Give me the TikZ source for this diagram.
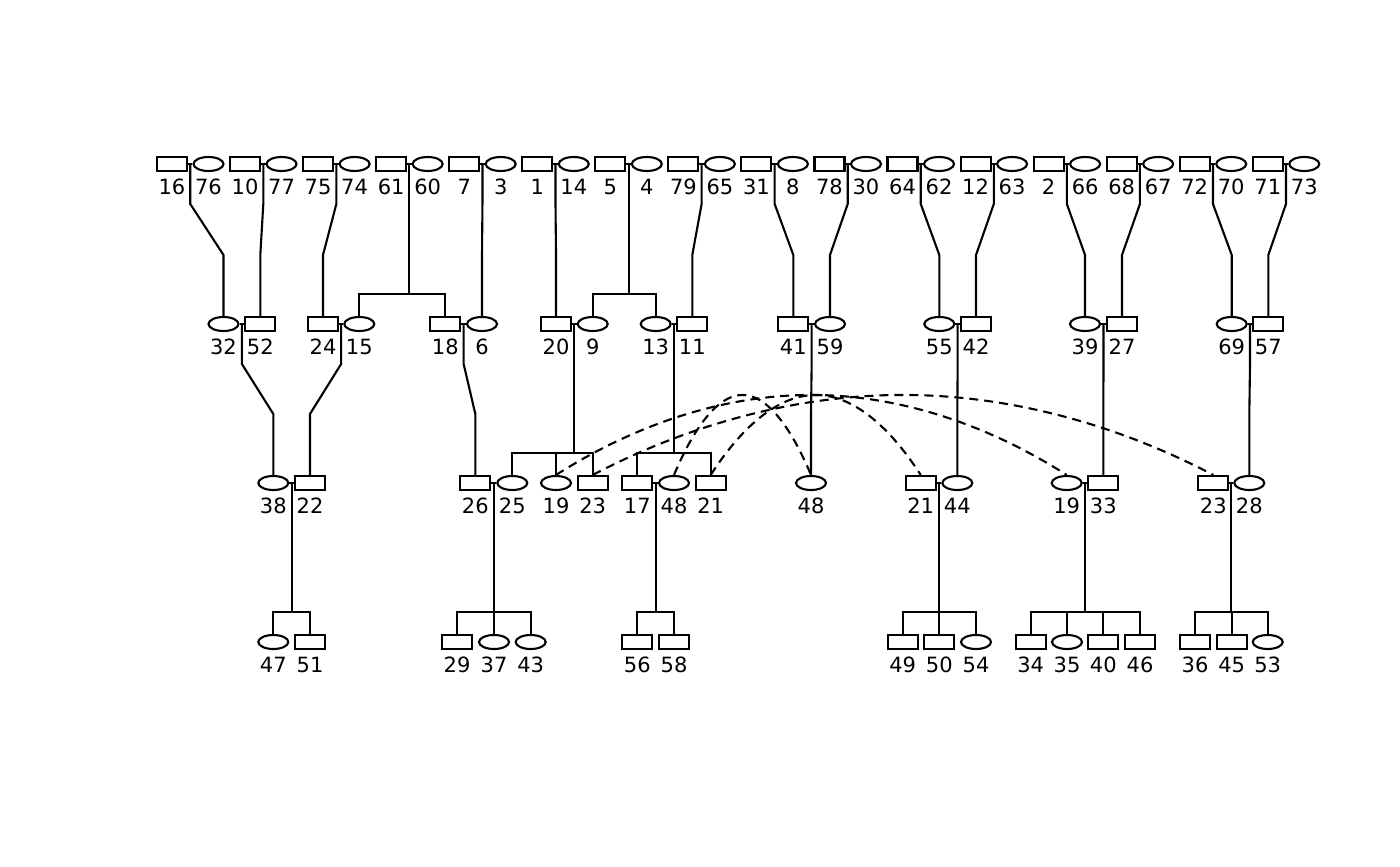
\documentclass[tikz,border=0pt]{standalone}
\usepackage{fontspec}
\setmainfont{DejaVu Sans}
\usetikzlibrary{shapes.geometric,calc}

\begin{document}
\begin{tikzpicture}
  [
  x=0.5pt, y=0.5pt,
  font=\fontsize{10.5}{12}\selectfont,
  line width=1.05pt,
  label distance=3pt,
  every label/.style={inner sep=0pt},
  malenode/.style={rectangle, inner sep=0pt, minimum width=15pt, minimum height=7pt, draw=black},
  femalenode/.style={ellipse, inner sep=0pt, minimum width=15pt, minimum height=7pt, draw=black},
  dupline/.style={dash pattern=on 4.5pt off 3pt},
  ]

\useasboundingbox (0,0) rectangle (1400,-866);

% founders
\foreach \m/\f [count=\i from 0] in {16/76,10/77,75/74,61/60,7/3,1/14,5/4,79/65,31/8,78/30,64/62,12/63,2/66,68/67,72/70,71/73}
{
  \node[malenode, label=below:\m] (m\m) at ({172+73.05*\i},-164) {};
  \node[femalenode, label=below:\f] (f\f) at ({208.5+73.05*\i},-164) {};
  \draw (m\m) -- (f\f);
  \coordinate (c\m) at ($(m\m.east)!0.5!(f\f.west)$);
}

% second generation
\foreach \n/\x in {52/260.3, 24/323, 18/445.3, 20/556, 11/692.3, 41/793.3, 42/976, 27/1122, 57/1268.3}
  \node[malenode, label=below:\n] (m\n) at (\x,-324) {};
\foreach \n/\x in {32/223.5, 15/359.3, 6/482, 9/592.7, 13/655.7, 59/830, 55/939.3, 39/1085, 69/1231.7}
  \node[femalenode, label=below:\n] (f\n) at (\x,-324) {};

% third generation (19, 23, 48, 21 drawn twice)
\foreach \n/\t/\x in {m22/22/310, m26/26/475.3, m23a/23/592.7, m17/17/637.3, m21a/21/710.7, m21b/21/920.7, m33/33/1103.3, m23b/23/1213.3}
  \node[malenode, label=below:\t] (\n) at (\x,-483) {};
\foreach \n/\t/\x in {f38/38/273.3, f25/25/512.3, f19a/19/556, f48a/48/674, f48b/48/811, f44/44/957.3, f19b/19/1066.7, f28/28/1249.3}
  \node[femalenode, label=below:\t] (\n) at (\x,-483) {};

% fourth generation
\foreach \n/\x in {51/310, 29/457, 56/637.3, 58/674, 49/902.7, 50/939.3, 34/1030.7, 40/1103.3, 46/1140, 36/1195, 45/1231.7}
  \node[malenode, label=below:\n] (m\n) at (\x,-642) {};
\foreach \n/\x in {47/273.3, 37/494, 43/530.7, 54/976, 35/1067, 53/1267.7}
  \node[femalenode, label=below:\n] (f\n) at (\x,-642) {};

% marriages
\foreach \a/\b/\c in {f32/m52/c32, m24/f15/c24, m18/f6/c18, m20/f9/c20, f13/m11/c13, m41/f59/c41, f55/m42/c55, f39/m27/c39, f69/m57/c69, f38/m22/c38, m26/f25/c26, m17/f48a/c17, m21b/f44/c21, f19b/m33/c19, m23b/f28/c23}
{
  \draw (\a) -- (\b);
  \coordinate (\c) at ($(\a.east)!0.5!(\b.west)$);
}

% only children
\foreach \c/\k in {c16/f32, c10/m52, c75/m24, c7/f6, c1/m20, c79/m11, c31/m41, c78/f59, c64/f55, c12/m42, c2/f39, c68/m27, c72/f69, c71/m57, c32/f38, c24/m22, c18/m26, c41/f48b, c55/f44, c39/m33, c69/f28}
  \draw (\c) -- ++(0,-40) -- ($(\k.north)+(0,61)$) -- (\k.north);

% sibships
\foreach \c/\a/\b in {c61/f15/m18, c5/f9/f13, c20/f25/m23a, c13/m17/m21a, c38/f47/m51, c26/m29/f43, c17/m56/m58, c21/m49/f54, c19/m34/m46, c23/m36/f53}
{
  \draw (\a.north) -- ++(0,22) coordinate (s\c) -| (\b.north);
  \draw (\c) -- (\c |- s\c);
}
\foreach \k in {f19a, f37, m50, f35, m40, m45}
  \draw (\k.north) -- ++(0,22);

% same person drawn twice
\foreach \a/\b in {f19a/f19b, m23a/m23b, f48a/f48b, m21a/m21b}
  \draw[dupline] (\a.north) parabola bend ($(\a.north)!0.5!(\b.north)+(0,80)$) (\b.north);
\end{tikzpicture}
\end{document}
